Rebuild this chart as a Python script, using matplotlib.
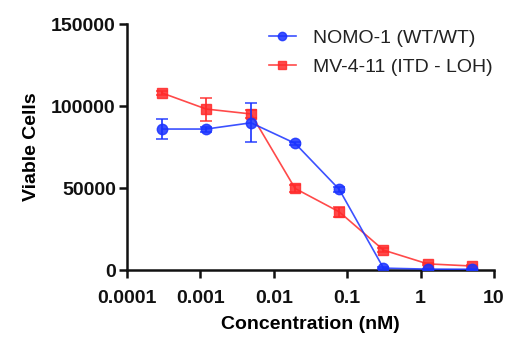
import matplotlib
matplotlib.use("Agg")
import matplotlib.pyplot as plt
from matplotlib.lines import Line2D
from matplotlib.ticker import FixedLocator, FixedFormatter, NullLocator

plt.rcParams['font.family'] = ['Liberation Sans', 'DejaVu Sans']
plt.rcParams['font.weight'] = 'bold'

# concentrations (nM), 4-fold dilution series
conc = [0.0003, 0.0012, 0.0049, 0.0195, 0.078, 0.3125, 1.25, 5.0]

nomo_mean = [86000, 86000, 89800, 77300, 49200, 1200, 600, 500]
nomo_err = [6000, 1500, 12000, 1000, 1500, 500, 300, 300]

mv_mean = [108000, 98200, 95200, 49800, 35500, 12200, 3800, 2500]
mv_err = [1500, 7000, 2500, 2000, 3000, 1000, 500, 400]

x_ticks = [0.0001, 0.001, 0.01, 0.1, 1, 10]
x_tick_labels = ["0.0001", "0.001", "0.01", "0.1", "1", "10"]
y_ticks = [0, 50000, 100000, 150000]

BLUE = "#1a33ff"
RED = "#ff2a2a"

fig = plt.figure(figsize=(5.14, 3.54), dpi=100)
ax = fig.add_axes([0.247, 0.237, 0.714, 0.695])

ax.errorbar(conc, nomo_mean, yerr=nomo_err, color=BLUE, marker="o", markersize=7.5,
            linewidth=1.2, elinewidth=1.2, capsize=4, capthick=1.2, zorder=3)
ax.errorbar(conc, mv_mean, yerr=mv_err, color=RED, marker="s", markersize=7,
            linewidth=1.2, elinewidth=1.2, capsize=4, capthick=1.2, zorder=2)
for ln in ax.lines:
    ln.set_alpha(0.85)

ax.set_xscale("log")
ax.set_xlim(0.0001, 10)
ax.set_ylim(0, 150000)
ax.xaxis.set_major_locator(FixedLocator(x_ticks))
ax.xaxis.set_major_formatter(FixedFormatter(x_tick_labels))
ax.xaxis.set_minor_locator(NullLocator())
ax.set_yticks(y_ticks)
ax.set_yticklabels([str(v) for v in y_ticks])

for side in ["top", "right"]:
    ax.spines[side].set_visible(False)
for side in ["left", "bottom"]:
    ax.spines[side].set_linewidth(1.8)
    ax.spines[side].set_color("#111111")
ax.tick_params(axis="both", width=1.8, length=6, labelsize=14, color="#111111",
               labelcolor="#111111")
ax.tick_params(axis="x", pad=8)
ax.tick_params(axis="y", pad=2)

ax.set_xlabel("Concentration (nM)", fontsize=14, fontweight="bold", labelpad=7)
ax.set_ylabel("Viable Cells", fontsize=14, fontweight="bold", labelpad=8)

handles = [
    Line2D([], [], color=BLUE, marker="o", markersize=6, linewidth=1.2, alpha=0.85),
    Line2D([], [], color=RED, marker="s", markersize=6, linewidth=1.2, alpha=0.85),
]
leg = ax.legend(handles, ["NOMO-1 (WT/WT)", "MV-4-11 (ITD - LOH)"],
                loc="upper right", bbox_to_anchor=(1.045, 1.05), frameon=False,
                fontsize=14, handlelength=1.4, handletextpad=0.9, labelspacing=0.6)
for t in leg.get_texts():
    t.set_fontweight("normal")
    t.set_color("#222222")

fig.savefig("out.png", dpi=100)
